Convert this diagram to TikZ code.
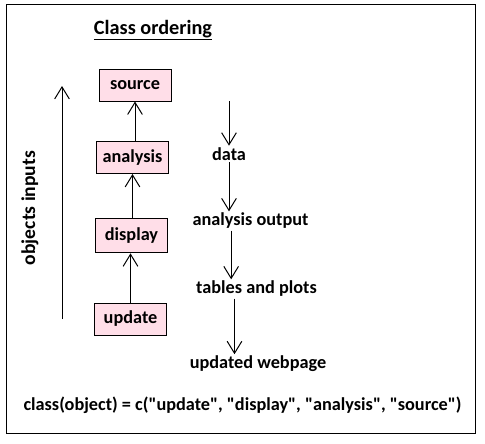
\documentclass[tikz,border=0pt]{standalone}
\usepackage{fontspec}
\newfontfamily\calfont{Carlito}
\usetikzlibrary{arrows.meta}
\definecolor{boxpink}{RGB}{255,222,232}
\tikzset{
  clsbox/.style={draw, fill=boxpink, font=\calfont\bfseries\fontsize{13.7}{16}\selectfont, minimum width=54pt, minimum height=24pt, inner sep=2pt},
  lbl/.style={font=\calfont\bfseries\fontsize{13.7}{16}\selectfont, inner sep=1pt}
}
\begin{document}
\begin{tikzpicture}[x=0.75pt, y=-0.75pt, >={Straight Barb[length=9pt,width=11pt]}, line width=0.75pt]
    % Frame
    \useasboundingbox (0,0) rectangle (485,443);
    \draw (6,4) rectangle (475,433);

    % Title
    \node[lbl, font=\calfont\bfseries\fontsize{15.2}{18}\selectfont] (title) at (153,30) {\underline{Class ordering}};

    % Class boxes
    \node[clsbox] (source) at (135,85) {source};
    \node[clsbox] (analysis) at (132.5,157.5) {analysis};
    \node[clsbox, minimum height=26pt] (display) at (131.5,235.5) {display};
    \node[clsbox] (update) at (130.5,319) {update};

    \draw[->] (update) -- (update |- display.south);
    \draw[->] (display.north -| analysis) -- (analysis);
    \draw[->] (analysis.north -| source) -- (source);

    % Objects inputs
    \coordinate (inlow) at (62,319);
    \coordinate (inhigh) at (62,86);
    \draw[->] (inlow) -- (inhigh);
    \node[lbl, rotate=90, font=\calfont\bfseries\fontsize{14.7}{17}\selectfont] (inputs) at (30,208) {objects inputs};

    % Outputs
    \coordinate (outtop) at (229,101);
    \node[lbl] (data) at (229,154) {data};
    \node[lbl] (aout) at (250.5,221) {analysis output};
    \node[lbl] (tabs) at (256.5,289) {tables and plots};
    \node[lbl] (web) at (258,364) {updated webpage};

    \draw[->] (outtop) -- (data);
    \draw[->] (data) -- (data |- aout.north);
    \draw[->] ([xshift=-14.5pt]aout.south) -- ([xshift=-14.5pt]aout.south |- tabs.north);
    \draw[->] ([xshift=-16.5pt]tabs.south) -- ([xshift=-16.5pt]tabs.south |- web.north);

    % Class vector
    \node[lbl] (vec) at (242.5,405) {class(object) = c("update", "display", "analysis", "source")};
\end{tikzpicture}
\end{document}
